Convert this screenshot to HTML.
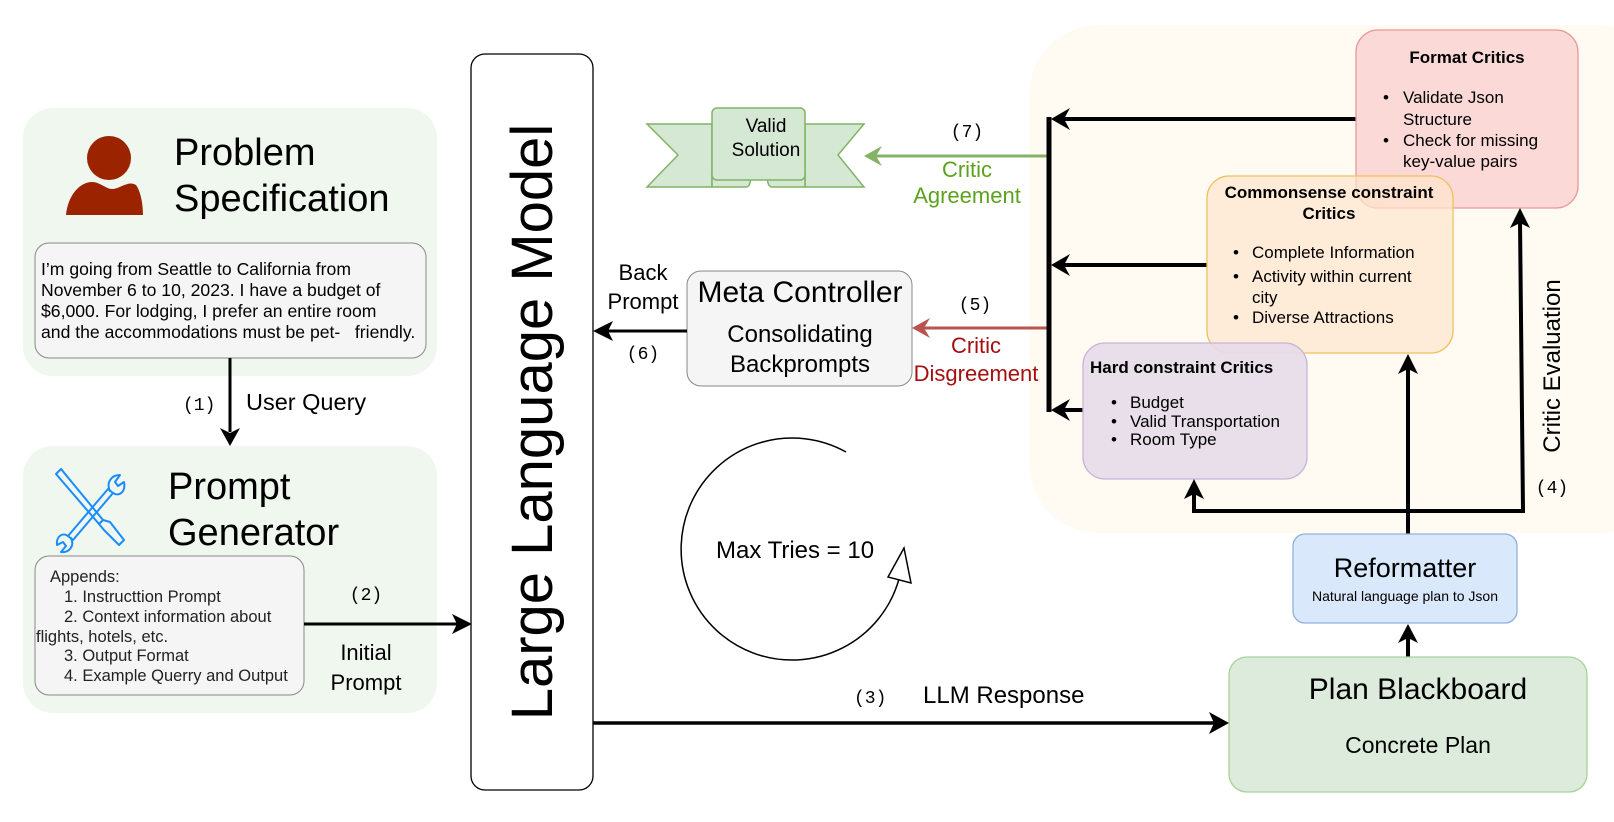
<!DOCTYPE html>
<html><head><meta charset="utf-8"><style>
html,body{margin:0;padding:0;background:#fff;}
svg{display:block;font-family:"Liberation Sans",sans-serif;}
.m{font-family:"Liberation Mono",monospace;}
</style></head><body>
<svg width="1614" height="822" viewBox="0 0 1614 822" xmlns="http://www.w3.org/2000/svg">
<!-- background critic area -->
<rect x="1029" y="25" width="640" height="508" rx="70" fill="#fffbf3"/>

<!-- Problem spec -->
<rect x="23" y="108" width="414" height="268" rx="30" fill="#eff7ee"/>
<circle cx="109" cy="158" r="22" fill="#9b2300"/>
<path d="M66 215 C68 195 80 182 92 182 C100 182 106 189 112 189 C120 189 128 180 136 185 C141 192 143 205 143 215 Z" fill="#9b2300"/>
<text x="174" y="165" font-size="38">Problem</text>
<text x="174" y="211" font-size="38">Specification</text>
<rect x="35" y="243" width="391" height="115" rx="14" fill="#f5f5f5" stroke="#888" stroke-width="1"/>
<g font-size="17.6">
<text x="41" y="275">I’m going from Seattle to California from</text>
<text x="41" y="296">November 6 to 10, 2023. I have a budget of</text>
<text x="41" y="317">$6,000. For lodging, I prefer an entire room</text>
<text x="41" y="338">and the accommodations must be pet-&#160;&#160;&#160;friendly.</text>
</g>
<line x1="230" y1="358" x2="230" y2="432" stroke="#000" stroke-width="3"/>
<path d="M220 428 L230 446 L240 428 L230 433Z" fill="#000"/>
<text x="183" y="410" font-size="18" class="m">(1)</text>
<text x="246" y="410" font-size="23.5">User Query</text>

<!-- Prompt generator -->
<rect x="23" y="446" width="414" height="267" rx="30" fill="#eff7ee"/>
<g stroke="#1a8cff" stroke-width="2" fill="none" stroke-linecap="round" stroke-linejoin="round">
<path d="M56 474 L61 469 L103 520 L99 524 Z"/>
<path d="M103 520 L110 522 L124 540 L119 545 L104 530 L99 524"/>
<path d="M68 536 L108 489 L113 493 L73 540 Z"/>
<path d="M110 491 C106 483 111 475 120 475 L115 482 L118 486 L124 482 C126 492 119 497 113 493"/>
<path d="M71 538 C75 546 69 553 61 552 L66 546 L63 542 L57 545 C56 536 63 532 68 536"/>
</g>
<text x="168" y="499" font-size="38">Prompt</text>
<text x="168" y="545" font-size="38">Generator</text>
<rect x="35" y="556" width="269" height="139" rx="14" fill="#f5f5f5" stroke="#888" stroke-width="1"/>
<g font-size="16.5" fill="#222">
<text x="50" y="582">Appends:</text>
<text x="64" y="602">1. Instructtion Prompt</text>
<text x="64" y="622">2. Context information about</text>
<text x="36" y="642">flights, hotels, etc.</text>
<text x="64" y="661">3. Output Format</text>
<text x="64" y="681">4. Example Querry and Output</text>
</g>
<line x1="304" y1="624" x2="458" y2="624" stroke="#000" stroke-width="3"/>
<path d="M452 614 L472 624 L452 634 L457 624Z" fill="#000"/>
<text x="366" y="600" font-size="18" class="m" text-anchor="middle">(2)</text>
<text x="366" y="660" font-size="22" text-anchor="middle">Initial</text>
<text x="366" y="690" font-size="22" text-anchor="middle">Prompt</text>

<!-- LLM -->
<rect x="471" y="54" width="122" height="736" rx="14" fill="#fff" stroke="#000" stroke-width="1.3"/>
<text transform="translate(552,422) rotate(-90)" font-size="58" text-anchor="middle">Large Language Model</text>

<!-- Valid Solution banner -->
<g fill="#d5e8d4" stroke="#82b366" stroke-width="1.5">
<path d="M647 124 L712 124 L712 187 L647 187 L678 155 Z"/>
<path d="M864 124 L805 124 L805 187 L864 187 L838 155 Z"/>
<path d="M712 187 L746 187 C752 187 752 172 746 172 L712 172 Z"/>
<path d="M805 187 L772 187 C766 187 766 172 772 172 L805 172 Z"/>
<rect x="712" y="108" width="93" height="72" rx="5"/>
</g>
<text x="766" y="132" font-size="19" text-anchor="middle">Valid</text>
<text x="766" y="156" font-size="19" text-anchor="middle">Solution</text>
<line x1="1049" y1="156" x2="872" y2="156" stroke="#82b366" stroke-width="3"/>
<path d="M882 146 L864 156 L882 166 L876 156Z" fill="#82b366"/>
<text x="967" y="137" font-size="18" class="m" text-anchor="middle">(7)</text>
<text x="967" y="177" font-size="22" fill="#5da21f" text-anchor="middle">Critic</text>
<text x="967" y="203" font-size="22" fill="#5da21f" text-anchor="middle">Agreement</text>

<!-- Meta controller -->
<rect x="687" y="271" width="225" height="115" rx="14" fill="#f5f5f5" stroke="#888" stroke-width="1"/>
<text x="800" y="302" font-size="30" text-anchor="middle">Meta Controller</text>
<text x="800" y="342" font-size="24" text-anchor="middle">Consolidating</text>
<text x="800" y="372" font-size="24" text-anchor="middle">Backprompts</text>
<line x1="687" y1="331" x2="608" y2="331" stroke="#000" stroke-width="3"/>
<path d="M613 321 L593 331 L613 341 L608 331Z" fill="#000"/>
<text x="643" y="280" font-size="22" text-anchor="middle">Back</text>
<text x="643" y="309" font-size="22" text-anchor="middle">Prompt</text>
<text x="643" y="359" font-size="18" class="m" text-anchor="middle">(6)</text>
<line x1="1049" y1="328" x2="920" y2="328" stroke="#b85450" stroke-width="3"/>
<path d="M930 318 L912 328 L930 338 L924 328Z" fill="#b85450"/>
<text x="975" y="310" font-size="18" class="m" text-anchor="middle">(5)</text>
<text x="976" y="353" font-size="22" fill="#a50f0f" text-anchor="middle">Critic</text>
<text x="976" y="381" font-size="22" fill="#a50f0f" text-anchor="middle">Disgreement</text>

<!-- Bar and critic arrows -->
<line x1="1049" y1="117" x2="1049" y2="412" stroke="#000" stroke-width="5"/>
<line x1="1356" y1="119" x2="1060" y2="119" stroke="#000" stroke-width="4"/>
<path d="M1070 108 L1051 119 L1070 130 L1064 119Z" fill="#000"/>
<line x1="1207" y1="265" x2="1060" y2="265" stroke="#000" stroke-width="4"/>
<path d="M1070 254 L1051 265 L1070 276 L1064 265Z" fill="#000"/>
<line x1="1083" y1="410" x2="1060" y2="410" stroke="#000" stroke-width="4"/>
<path d="M1070 399 L1051 410 L1070 421 L1064 410Z" fill="#000"/>

<!-- Format critics -->
<rect x="1356" y="30" width="222" height="178" rx="22" fill="#f8cecc" fill-opacity="0.75" stroke="#e59a97" stroke-width="1.3"/>
<text x="1467" y="63" font-size="17" font-weight="bold" text-anchor="middle">Format Critics</text>
<g font-size="17">
<text x="1383" y="103">•</text><text x="1403" y="103">Validate Json</text>
<text x="1403" y="125">Structure</text>
<text x="1383" y="146">•</text><text x="1403" y="146">Check for missing</text>
<text x="1403" y="167">key-value pairs</text>
</g>
<!-- Commonsense -->
<rect x="1207" y="176" width="246" height="177" rx="22" fill="#ffe6cc" fill-opacity="0.7" stroke="#f0c060" stroke-width="1.3"/>
<text x="1329" y="198" font-size="17" font-weight="bold" text-anchor="middle">Commonsense constraint</text>
<text x="1329" y="219" font-size="17" font-weight="bold" text-anchor="middle">Critics</text>
<g font-size="17">
<text x="1233" y="258">•</text><text x="1252" y="258">Complete Information</text>
<text x="1233" y="282">•</text><text x="1252" y="282">Activity within current</text>
<text x="1252" y="303">city</text>
<text x="1233" y="323">•</text><text x="1252" y="323">Diverse Attractions</text>
</g>
<!-- Hard -->
<rect x="1083" y="343" width="224" height="136" rx="22" fill="#e6dcea" fill-opacity="0.9" stroke="#c9b4d6" stroke-width="1.3"/>
<text x="1090" y="373" font-size="17" font-weight="bold">Hard constraint Critics</text>
<g font-size="17">
<text x="1111" y="408">•</text><text x="1130" y="408">Budget</text>
<text x="1111" y="427">•</text><text x="1130" y="427">Valid Transportation</text>
<text x="1111" y="445">•</text><text x="1130" y="445">Room Type</text>
</g>

<!-- Critic evaluation lines -->
<polyline points="1194,492 1194,511 1523,511 1520,222" fill="none" stroke="#000" stroke-width="4"/>
<path d="M1184 499 L1194 479 L1204 499 L1194 494Z" fill="#000"/>
<path d="M1510 228 L1520 208 L1530 228 L1520 223Z" fill="#000"/>
<line x1="1408" y1="534" x2="1408" y2="367" stroke="#000" stroke-width="4"/>
<path d="M1398 374 L1408 354 L1418 374 L1408 369Z" fill="#000"/>
<text transform="translate(1560,366) rotate(-90)" font-size="24" text-anchor="middle">Critic Evaluation</text>
<text x="1552" y="493" font-size="18" class="m" text-anchor="middle">(4)</text>

<!-- Reformatter -->
<rect x="1293" y="534" width="224" height="89" rx="12" fill="#dae8fc" stroke="#8fb0dc" stroke-width="1.3"/>
<text x="1405" y="577" font-size="27" text-anchor="middle">Reformatter</text>
<text x="1405" y="601" font-size="14" text-anchor="middle">Natural language plan to Json</text>
<line x1="1408" y1="657" x2="1408" y2="636" stroke="#000" stroke-width="4"/>
<path d="M1398 643 L1408 624 L1418 643 L1408 638Z" fill="#000"/>

<!-- Plan Blackboard -->
<rect x="1229" y="657" width="358" height="135" rx="18" fill="#dcebdb" stroke="#a9d19a" stroke-width="1.3"/>
<text x="1418" y="699" font-size="30" text-anchor="middle">Plan Blackboard</text>
<text x="1418" y="753" font-size="23" text-anchor="middle">Concrete Plan</text>
<line x1="593" y1="723" x2="1215" y2="723" stroke="#000" stroke-width="3.5"/>
<path d="M1209 712 L1229 723 L1209 734 L1214 723Z" fill="#000"/>
<text x="854" y="703" font-size="18" class="m">(3)</text>
<text x="923" y="703" font-size="24">LLM Response</text>

<!-- loop -->
<path d="M846 452 A111 111 0 1 0 899 579" fill="none" stroke="#000" stroke-width="1.5"/>
<path d="M904 548 L888 577 L911 583 Z" fill="#fff" stroke="#000" stroke-width="1.5"/>
<text x="716" y="558" font-size="24">Max Tries = 10</text>
</svg>
</body></html>
